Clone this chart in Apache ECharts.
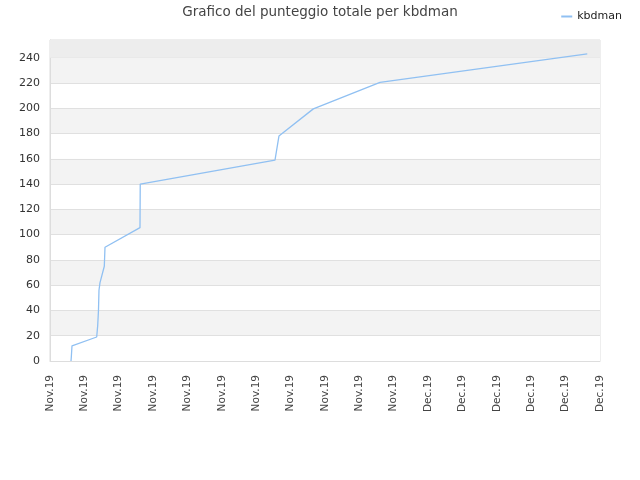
<!DOCTYPE html>
<html>
<head>
<meta charset="utf-8">
<script src="https://cdn.jsdelivr.net/npm/echarts@6/dist/echarts.min.js"></script>
<style>
    html, body { margin: 0; padding: 0; background: #fff; }
    #chart { width: 640px; height: 480px; }
</style>
</head>
<body>
<div id="chart"></div>
<script>
const seriesName = 'kbdman';
const titleText = 'Grafico del punteggio totale per kbdman';

// score history (UTC times)
const times = [
    '2019-11-11T05:20', '2019-11-11T05:45', '2019-11-11T06:43', '2019-11-12T17:12',
    '2019-11-12T18:36', '2019-11-12T19:41', '2019-11-12T20:24', '2019-11-12T21:50',
    '2019-11-13T03:50', '2019-11-13T04:48', '2019-11-15T05:40', '2019-11-15T06:00',
    '2019-11-23T02:10', '2019-11-23T07:41', '2019-11-25T07:41', '2019-11-29T04:48',
    '2019-12-11T06:14'
];
const scores = [0, 3, 12, 19, 28, 40, 56, 62, 75, 90, 105.5, 140, 159, 178, 199.5, 220.5, 243];

const monthNames = ['Jan', 'Feb', 'Mar', 'Apr', 'May', 'Jun', 'Jul', 'Aug', 'Sep', 'Oct', 'Nov', 'Dec'];
const DAY = 86400000;
const xMin = Date.UTC(2019, 10, 10);
const xMax = Date.UTC(2019, 11, 12);
const yMax = 254;

function toStamp(s) {
    return Date.parse(s + ':00Z');
}

function monthLabel(v) {
    const d = new Date(v);
    return monthNames[d.getUTCMonth()] + '.' + String(d.getUTCFullYear()).slice(2);
}

const data = times.map((t, i) => [toStamp(t), scores[i]]);

const chart = echarts.init(document.getElementById('chart'));
chart.setOption({
    animation: false,
    title: {
        text: titleText,
        left: 'center',
        top: 0,
        textStyle: { fontFamily: 'DejaVu Sans', fontSize: 13.5, fontWeight: 'normal', color: '#444' }
    },
    legend: {
        right: 13,
        top: 6,
        icon: 'rect',
        itemWidth: 11,
        itemHeight: 2,
        itemGap: 8,
        textStyle: { fontFamily: 'DejaVu Sans', fontSize: 11, color: '#222' },
        data: [seriesName]
    },
    grid: {
        left: 50, right: 40, top: 40, bottom: 119,
        show: true,
        borderColor: '#ddd',
        borderWidth: 1
    },
    xAxis: {
        type: 'value',
        min: xMin,
        max: xMax,
        interval: 2 * DAY,
        axisLine: { show: true, lineStyle: { color: '#ddd' } },
        axisTick: { show: false },
        splitLine: { show: false },
        axisLabel: {
            rotate: 90,
            margin: 14,
            fontFamily: 'DejaVu Sans',
            fontSize: 10.5,
            color: '#444',
            formatter: monthLabel
        }
    },
    yAxis: {
        type: 'value',
        min: 0,
        max: yMax,
        interval: 20,
        axisLine: { show: true, lineStyle: { color: '#ddd' } },
        axisTick: { show: false },
        axisLabel: { showMaxLabel: false, fontFamily: 'DejaVu Sans', fontSize: 11, color: '#333', margin: 10 },
        splitLine: { show: true, lineStyle: { color: '#e0e0e0' } },
        splitArea: { show: true, areaStyle: { color: ['#ffffff', '#f3f3f3'] } }
    },
    series: [{
        name: seriesName,
        type: 'line',
        data: data,
        showSymbol: false,
        symbol: 'none',
        lineStyle: { color: '#90c0f2', width: 1.3 },
        itemStyle: { color: '#90c0f2' },
        markArea: {
            silent: true,
            itemStyle: { color: '#ededed' },
            data: [[{ yAxis: 240 }, { yAxis: yMax }]]
        }
    }]
});
</script>
</body>
</html>
